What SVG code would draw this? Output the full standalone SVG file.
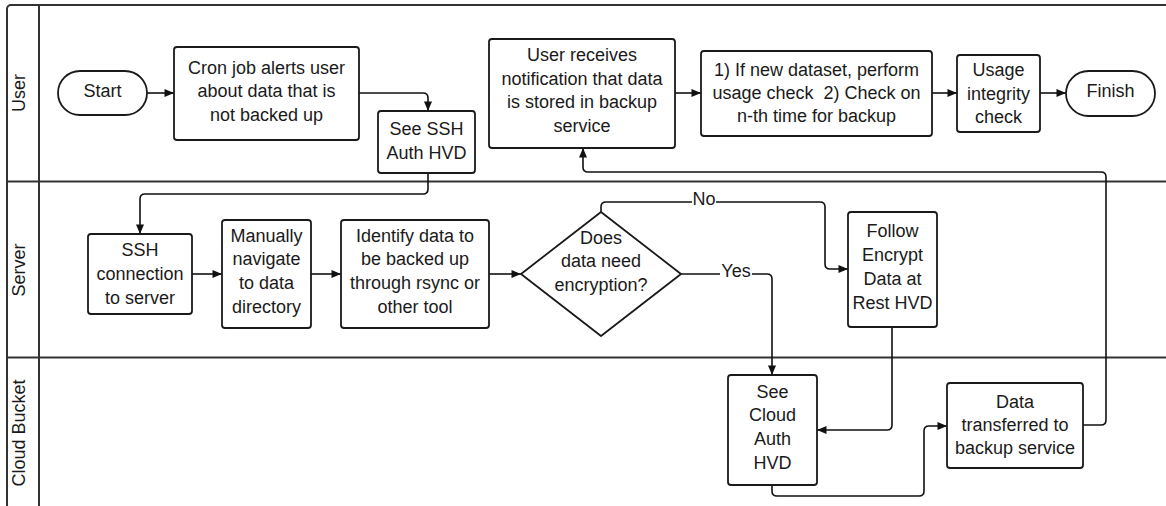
<svg xmlns="http://www.w3.org/2000/svg" width="1166" height="506" viewBox="0 0 1166 506">
  <style>
    .lane { fill: none; stroke: #333; stroke-width: 2; }
    .node { fill: #fff; stroke: #1a1a1a; stroke-width: 1.8; }
    .edge { fill: none; stroke: #111; stroke-width: 1.6; marker-end: url(#arrow); }
    text { font-family: "Liberation Sans", Arial, sans-serif; font-size: 18px; fill: #1a1a1a; text-anchor: middle; }
    .tag { fill: #fff; stroke: none; }
  </style>
  <defs>
    <marker id="arrow" markerUnits="userSpaceOnUse" markerWidth="12" markerHeight="12" viewBox="0 0 12 12" refX="11" refY="6" orient="auto">
      <path d="M1.5,2 L11,6 L1.5,10 Z" fill="#111"/>
    </marker>
  </defs>

  <rect width="1166" height="506" fill="#fff"/>

  <!-- swimlane frame -->
  <g id="lanes">
    <rect class="lane" x="7" y="5" width="1180" height="504" rx="4"/>
    <line class="lane" x1="39" y1="5" x2="39" y2="506"/>
    <line class="lane" x1="7" y1="181.5" x2="1166" y2="181.5"/>
    <line class="lane" x1="7" y1="357.5" x2="1166" y2="357.5"/>
    <text transform="translate(25,93) rotate(-90)">User</text>
    <text transform="translate(25,270) rotate(-90)">Server</text>
    <text transform="translate(25,433) rotate(-90)">Cloud Bucket</text>
  </g>

  <!-- connectors -->
  <g id="connectors">
    <path class="edge" d="M147,93 H174"/>
    <path class="edge" d="M359,93 H423 Q428,93 428,98 V111"/>
    <path class="edge" d="M428,173 V189 Q428,194 423,194 H145 Q140,194 140,199 V234"/>
    <path class="edge" d="M192,274 H222"/>
    <path class="edge" d="M311,274 H341"/>
    <path class="edge" d="M489,274 H521"/>
    <path class="edge" d="M601,212 V207 Q601,202 606,202 H820 Q825,202 825,207 V264 Q825,269 830,269 H848"/>
    <path class="edge" d="M681,274 H767 Q772,274 772,279 V375"/>
    <path class="edge" d="M892,327 V425 Q892,430 887,430 H817"/>
    <path class="edge" d="M772,485 V491 Q772,496 777,496 H919 Q924,496 924,491 V431 Q924,426 929,426 H947"/>
    <path class="edge" d="M1083,425 H1101 Q1106,425 1106,420 V177 Q1106,172 1101,172 H588 Q583,172 583,167 V148"/>
    <path class="edge" d="M675,93 H701"/>
    <path class="edge" d="M932,93 H957"/>
    <path class="edge" d="M1040,93 H1066"/>
    <rect class="tag" x="692" y="193" width="24" height="17"/>
    <text x="704" y="205">No</text>
    <rect class="tag" x="720" y="265" width="32" height="17"/>
    <text x="736" y="277">Yes</text>
  </g>

  <!-- nodes -->
  <g id="start">
    <rect class="node" x="58" y="71" width="89" height="44" rx="22"/>
    <text x="102.5" y="97">Start</text>
  </g>
  <g id="cron-alert">
    <rect class="node" x="174" y="47" width="185" height="93" rx="3"/>
    <text x="266.5" y="74">Cron job alerts user</text>
    <text x="266.5" y="97">about data that is</text>
    <text x="266.5" y="121">not backed up</text>
  </g>
  <g id="ssh-auth">
    <rect class="node" x="378" y="111" width="97" height="62" rx="3"/>
    <text x="426.5" y="135">See SSH</text>
    <text x="426.5" y="159">Auth HVD</text>
  </g>
  <g id="notification">
    <rect class="node" x="489" y="39" width="186" height="109" rx="3"/>
    <text x="582" y="61">User receives</text>
    <text x="582" y="85">notification that data</text>
    <text x="582" y="108">is stored in backup</text>
    <text x="582" y="132">service</text>
  </g>
  <g id="usage-check">
    <rect class="node" x="701" y="51" width="231" height="85" rx="3"/>
    <text x="816.5" y="76">1) If new dataset, perform</text>
    <text x="816.5" y="99" xml:space="preserve">usage check  2) Check on</text>
    <text x="816.5" y="122">n-th time for backup</text>
  </g>
  <g id="integrity-check">
    <rect class="node" x="957" y="55" width="83" height="77" rx="3"/>
    <text x="998.5" y="76">Usage</text>
    <text x="998.5" y="100">integrity</text>
    <text x="998.5" y="123">check</text>
  </g>
  <g id="finish">
    <rect class="node" x="1066" y="71" width="89" height="45" rx="22.5"/>
    <text x="1110.5" y="97">Finish</text>
  </g>
  <g id="ssh-connection">
    <rect class="node" x="88" y="234" width="104" height="80" rx="3"/>
    <text x="140" y="256">SSH</text>
    <text x="140" y="280">connection</text>
    <text x="140" y="304">to server</text>
  </g>
  <g id="navigate">
    <rect class="node" x="222" y="220" width="89" height="108" rx="3"/>
    <text x="266.5" y="242">Manually</text>
    <text x="266.5" y="265">navigate</text>
    <text x="266.5" y="289">to data</text>
    <text x="266.5" y="313">directory</text>
  </g>
  <g id="identify">
    <rect class="node" x="341" y="220" width="148" height="108" rx="3"/>
    <text x="415" y="242">Identify data to</text>
    <text x="415" y="265">be backed up</text>
    <text x="415" y="289">through rsync or</text>
    <text x="415" y="313">other tool</text>
  </g>
  <g id="needs-encryption">
    <path class="node" d="M601,212 L681,274 L601,336 L521,274 Z" stroke-linejoin="round"/>
    <text x="601" y="244">Does</text>
    <text x="601" y="267">data need</text>
    <text x="601" y="291">encryption?</text>
  </g>
  <g id="encrypt-at-rest">
    <rect class="node" x="848" y="212" width="89" height="115" rx="3"/>
    <text x="892.5" y="237">Follow</text>
    <text x="892.5" y="261">Encrypt</text>
    <text x="892.5" y="285">Data at</text>
    <text x="892.5" y="309">Rest HVD</text>
  </g>
  <g id="cloud-auth">
    <rect class="node" x="728" y="375" width="89" height="110" rx="3"/>
    <text x="772.5" y="398">See</text>
    <text x="772.5" y="421">Cloud</text>
    <text x="772.5" y="445">Auth</text>
    <text x="772.5" y="469">HVD</text>
  </g>
  <g id="transfer">
    <rect class="node" x="947" y="383" width="136" height="85" rx="3"/>
    <text x="1015" y="408">Data</text>
    <text x="1015" y="431">transferred to</text>
    <text x="1015" y="454">backup service</text>
  </g>
</svg>
